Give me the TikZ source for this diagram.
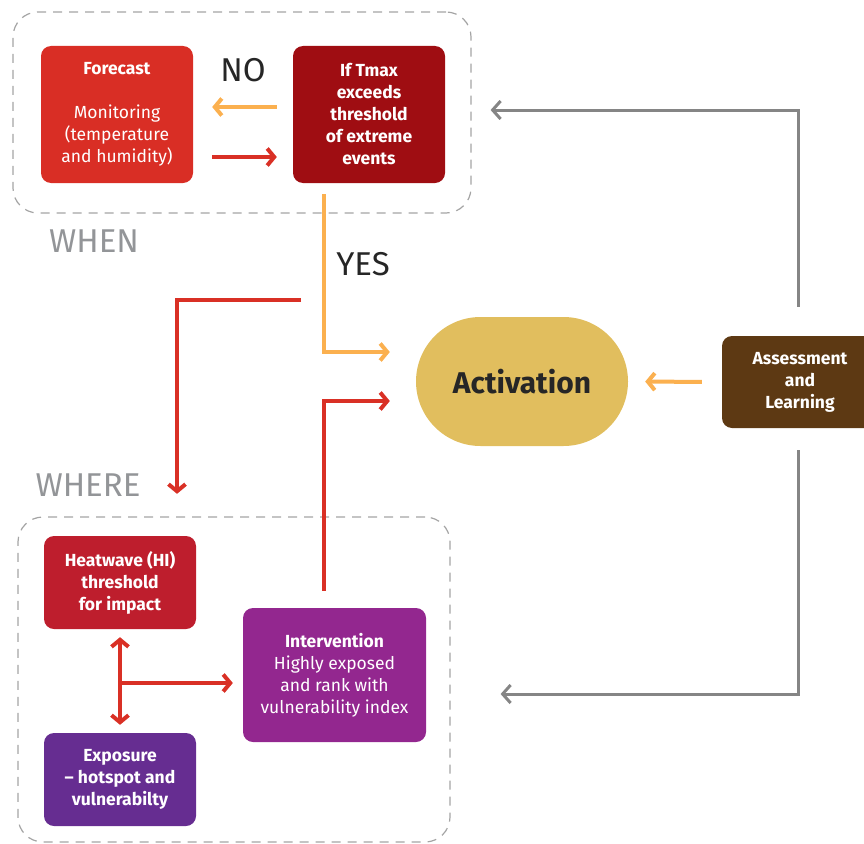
\documentclass[tikz,border=0pt]{standalone}
\usepackage{fontspec}
\setmainfont{Fira Sans}
\usetikzlibrary{calc,arrows.meta}
\definecolor{fcred}{HTML}{D92E25}
\definecolor{darkred}{HTML}{9F0D12}
\definecolor{arrred}{HTML}{D93025}
\definecolor{arryel}{HTML}{FBB04F}
\definecolor{arrgray}{HTML}{858585}
\definecolor{actyel}{HTML}{E1BE5E}
\definecolor{brown}{HTML}{5D3913}
\definecolor{hwred}{HTML}{BE1E2D}
\definecolor{expur}{HTML}{662D91}
\definecolor{inpur}{HTML}{93278F}
\definecolor{labgray}{HTML}{939598}
\tikzset{x=1pt, y=-1pt,
	box/.style={rounded corners=10pt, inner sep=0pt, align=center, text=white,
		minimum width=152pt, minimum height=137pt,
		font=\fontsize{17.5}{22}\selectfont},
	group/.style={draw=arrgray!75, dash pattern=on 9pt off 7pt, line width=1.2pt,
		rounded corners=25pt, inner sep=0pt},
	biglabel/.style={font=\fontsize{33}{33}\selectfont, inner sep=0pt},
	flow/.style={line width=4pt, -{Straight Barb[length=7pt,width=17pt]}},
	back/.style={line width=3pt, draw=arrgray, -{Straight Barb[length=8pt,width=18pt]}}
}
\begin{document}
\begin{tikzpicture}
\useasboundingbox (0,0) rectangle (864,843);
% groups
\node[group, minimum width=458pt, minimum height=201pt] (whenbox) at (242,112.5) {};
\node[group, minimum width=432pt, minimum height=325pt] (wherebox) at (234,679.5) {};
% when
\node[box, fill=fcred] (forecast) at (117,114.5)
	{\textbf{Forecast}\\[22pt]Monitoring\\(temperature\\and humidity)};
\node[box, fill=darkred, font=\fontsize{17.5}{22}\bfseries] (tmax) at (369,114.5)
	{If Tmax\\exceeds\\threshold\\of extreme\\events};
% activation and assessment
\node[box, fill=actyel, text=black!85, rounded corners=64.5pt, minimum width=212pt,
	minimum height=129pt, font=\fontsize{30}{30}\bfseries] (act) at (522,381.5) {Activation};
\node[box, fill=brown, minimum width=156pt, minimum height=92pt,
	font=\fontsize{17.5}{22}\bfseries] (assess) at (800,382) {Assessment\\and\\Learning};
% where
\node[box, fill=hwred, minimum height=93pt, font=\fontsize{17.5}{22}\bfseries] (heat) at (120,582.5)
	{Heatwave (HI)\\threshold\\for impact};
\node[box, fill=expur, minimum height=93pt, font=\fontsize{17.5}{22}\bfseries] (expo) at (120,779.5)
	{Exposure\\-- hotspot and\\vulnerabilty};
\node[box, fill=inpur, minimum width=183pt, minimum height=134pt] (inter) at (334.5,675)
	{\textbf{Intervention}\\Highly exposed\\and rank with\\vulnerability index};
% labels
\node[biglabel, text=black!85] (no) at (243,70) {NO};
\node[biglabel, text=black!85] (yes) at (363,264) {YES};
\node[biglabel, text=labgray] (when) at (94,241) {WHEN};
\node[biglabel, text=labgray] (where) at (88,485) {WHERE};
\coordinate (split) at (301,300);
\coordinate (mid) at ($(heat.south)!0.5!(expo.north)$);
% connectors
\draw[flow, draw=arryel, shorten <=16pt, shorten >=19pt]
	([yshift=7.5pt]tmax.west) -- ([yshift=7.5pt]forecast.west -| forecast.east);
\draw[flow, draw=arrred, shorten <=19pt, shorten >=16pt]
	([yshift=-42.5pt]forecast.east) -- ([yshift=-42.5pt]tmax.west);
\draw[flow, draw=arryel, shorten <=11pt, shorten >=26pt]
	([xshift=-45pt]tmax.south) |- ([yshift=29.5pt]act.west);
\draw[flow, draw=arrred, shorten >=42pt] (split) -| ([xshift=57pt]heat.north);
\draw[flow, draw=arrred, shorten <=17pt, shorten >=26pt]
	([xshift=-10.5pt]inter.north) |- ([yshift=-19.5pt]act.west);
\draw[flow, draw=arryel, shorten <=20pt, shorten >=17pt] (assess.west) -- (act.east);
\draw[back, shorten <=29pt, shorten >=19pt] ([xshift=-2pt]assess.north) |- ([yshift=2.5pt]whenbox.east);
\draw[back, shorten <=22pt, shorten >=50pt] ([xshift=-2pt]assess.south) |- ([yshift=-14.5pt]wherebox.east);
\draw[flow, draw=arrred, {Straight Barb[length=7pt,width=17pt]}-{Straight Barb[length=7pt,width=17pt]},
	shorten <=8pt, shorten >=8pt] (heat.south) -- (expo.north);
\draw[flow, draw=arrred, shorten >=10pt] ([yshift=-2pt]mid) -- ([yshift=-2pt]mid -| inter.west);
\end{tikzpicture}
\end{document}
